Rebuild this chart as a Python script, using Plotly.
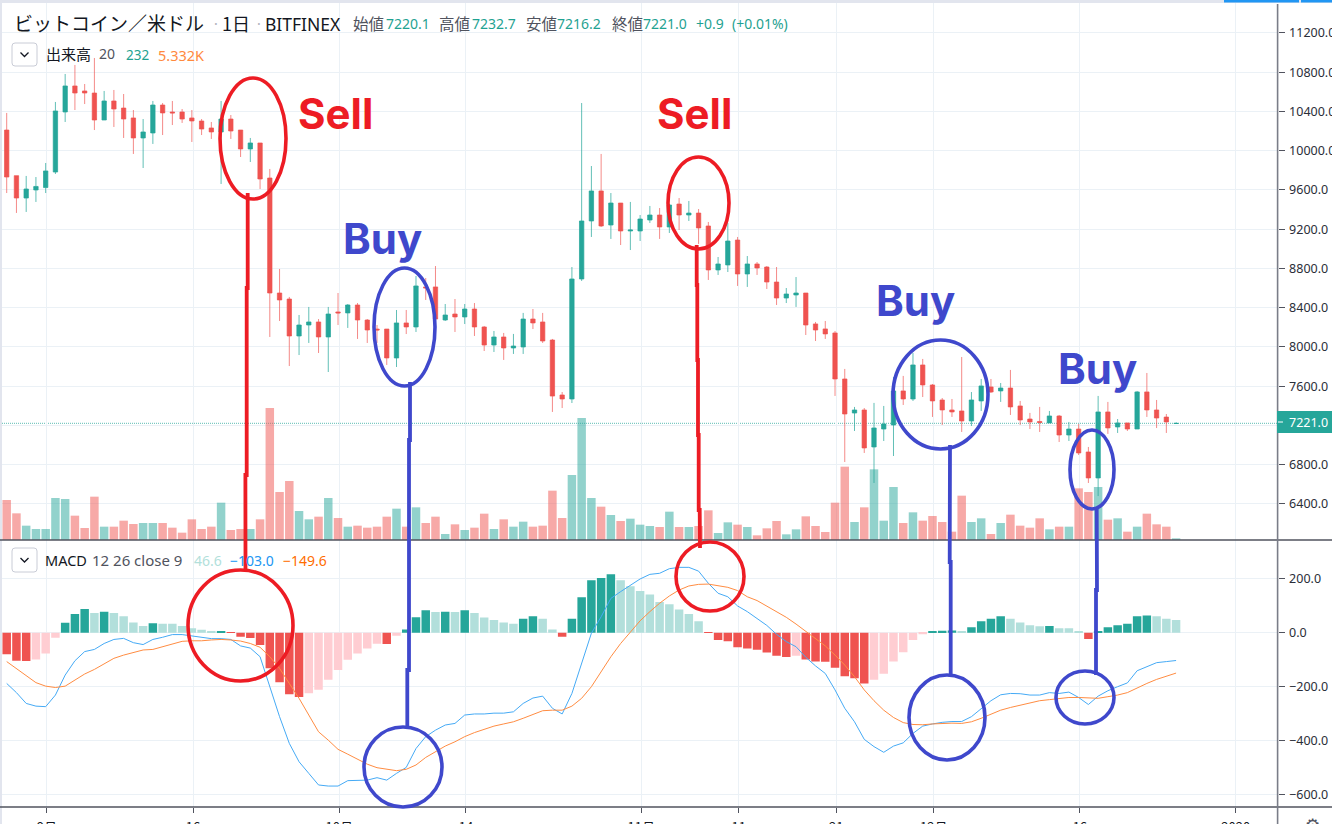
import pandas as pd
import plotly.graph_objects as go

W, H = 1332, 842
dates = pd.date_range("2019-08-28", periods=121).strftime("%Y-%m-%d").tolist()

highs = [10385,9746,9743,9732,9875,10497,10782,10874,10680,10945,
10609,10619,10578,10415,10323,10507,10486,10507,10425,10415,
10323,10293,10507,10364,10211,10130,10079,9814,8795,8510,
8326,8408,8285,8408,8550,8438,8448,8285,8224,8183,
8377,8377,8723,8703,8825,8438,8489,8438,8448,8214,
8163,8143,8133,8347,8387,8347,8082,7541,8815,10486,
9844,9967,9569,9467,9478,9345,9437,9416,9457,9518,
9488,9406,9274,8917,9264,9121,8927,8866,8825,8815,
8601,8713,8550,8255,8265,8163,7776,7389,7378,7430,
7399,7694,7705,7939,7878,7623,7480,7470,7898,7541,
7674,7674,7633,7766,7450,7328,7389,7348,7307,7236,
7215,6981,7501,7440,7266,7226,7552,7735,7460,7317,
7232.7]
opens = [10211,9746,9518,9600,9625,9783,10395,10660,10609,10588,
10313,10507,10435,10334,10130,10181,10466,10395,10395,10334,
10303,10232,10191,10323,10211,10018,10079,9722,8550,8489,
8112,8224,8255,8102,8357,8347,8428,8275,8183,8183,
7888,8245,8204,8612,8612,8275,8336,8306,8387,8204,
8020,8102,7990,8000,8285,8255,8071,7511,7470,8693,
9284,9590,9243,9467,9182,9182,9294,9345,9223,9457,
9345,9365,9233,8785,8836,9090,8744,8846,8815,8662,
8499,8530,8550,8235,8184,8143,7674,7327,7358,6981,
7164,7205,7552,7470,7817,7613,7460,7358,7348,7246,
7450,7593,7552,7582,7399,7266,7241,7226,7297,7103,
7164,6930,6665,7338,7185,7226,7164,7542,7358,7286,
7220.1]
closes = [9732,9518,9610,9636,9794,10405,10660,10588,10588,10313,
10507,10425,10323,10130,10191,10466,10385,10385,10323,10303,
10221,10191,10323,10201,10018,10079,9712,8550,8479,8112,
8224,8255,8102,8336,8347,8428,8275,8173,8173,7888,
8245,8204,8622,8602,8285,8326,8306,8387,8204,8020,
8102,7990,8010,8285,8245,8061,7500,7470,8693,9284,
9590,9233,9467,9182,9192,9304,9345,9223,9447,9345,
9365,9213,8785,8846,9080,8744,8846,8805,8662,8499,
8540,8550,8224,8173,8133,7674,7317,7358,6971,7175,
7215,7552,7470,7817,7613,7450,7358,7338,7246,7460,
7603,7541,7582,7389,7256,7236,7231,7297,7103,7164,
6920,6665,7338,7175,7226,7164,7542,7358,7276,7236,
7221.0]
lows = [9569,9366,9376,9478,9569,9763,10293,10415,10476,10211,
10313,10242,10130,9967,9824,10069,10160,10262,10283,10089,
10160,10120,9661,10120,9936,9885,9610,8102,8265,7806,
7918,8041,7939,7745,8224,8194,8082,8041,8041,7817,
7796,8132,8153,8479,8285,8265,8153,8234,8112,7959,
7949,7868,7929,7929,8183,8041,7338,7378,7429,8673,
9121,9223,9101,9039,8988,9080,9264,9101,9162,9192,
9284,9050,8683,8734,8764,8622,8612,8734,8591,8428,
8448,8408,8122,8061,8082,7501,6828,7144,6920,6614,
7042,6889,7409,7450,7490,7287,7205,7287,7134,7195,
7348,7531,7440,7307,7205,7164,7134,7226,7032,7042,
6899,6614,6481,7114,7124,7144,7164,7287,7174,7124,
7216.2]
volumes = [5640,3760,2021,1551,1551,5922,5781,3431,1692,6110,
1880,1880,2726,2256,2397,2397,2397,1739,1034,2914,
1551,1880,5264,1410,1551,1551,2914,18612,6768,8319,
4089,2914,3290,5922,3102,1880,2021,1739,1880,3290,
4418,1880,4606,2397,3290,846,2209,1410,1739,3713,
1551,2914,1880,2585,1880,2021,6956,3102,9165,17202,
5922,4700,3525,2679,3008,2162,1974,1833,3995,1833,
1833,1974,4183,987,2491,2162,1833,658,1645,2679,
799,1504,3337,1974,1128,5264,10340,2538,4606,9964,
2726,7473,2397,3901,2726,3384,2538,1175,6251,2538,
3055,846,2397,3572,2021,1739,3055,1504,1880,1880,
7285,6768,7473,2867,3055,1175,1880,3713,2209,1880,
232]
macd_hist = [-80,-104,-105,-99,-77,-19,37,69,88,73,
78,73,61,38,25,35,33,33,25,16,
11,3,4,-1,-15,-20,-46,-132,-184,-228,
-238,-224,-211,-174,-138,-100,-77,-59,-41,-42,
-11,12,57,83,77,78,77,83,73,56,
47,38,33,52,61,52,12,-15,52,131,
194,203,216,194,172,154,141,114,105,86,
69,42,-1,-27,-32,-54,-59,-63,-73,-85,
-90,-85,-99,-107,-108,-130,-161,-169,-188,-174,
-152,-107,-72,-27,-6,3,7,8,6,20,
42,52,61,52,38,28,24,25,16,16,
3,-23,6,20,28,33,61,64,61,52,
46.6]
macd_line = [-188,-222,-262,-272,-274,-231,-157,-104,-70,-62,
-40,-25,-21,-37,-44,-25,-17,-7,-7,-12,
-17,-22,-22,-25,-49,-57,-89,-200,-311,-410,
-478,-521,-564,-568,-568,-548,-546,-546,-537,-546,
-521,-499,-429,-385,-361,-342,-336,-305,-301,-301,
-298,-298,-293,-262,-242,-235,-280,-301,-225,-114,
-2,59,127,152,177,199,216,220,237,242,
242,228,183,146,133,99,78,54,27,-6,
-33,-52,-91,-123,-151,-212,-280,-330,-395,-422,
-443,-420,-408,-373,-346,-338,-332,-329,-329,-311,
-282,-252,-230,-225,-226,-231,-231,-222,-225,-220,
-240,-266,-235,-215,-200,-186,-141,-126,-111,-107,
-103.0]
signal_line = [-107,-132,-157,-185,-198,-203,-198,-175,-153,-136,
-114,-95,-83,-74,-64,-62,-52,-42,-32,-30,
-30,-27,-25,-27,-31,-40,-54,-89,-132,-188,
-243,-305,-367,-398,-432,-450,-469,-487,-500,-506,
-511,-506,-490,-462,-441,-420,-404,-385,-370,-358,
-346,-338,-330,-317,-303,-289,-287,-287,-272,-243,
-200,-144,-89,-40,4,44,78,109,136,158,
173,179,180,175,168,156,133,119,99,78,
57,32,4,-21,-49,-83,-120,-163,-212,-252,
-287,-314,-333,-340,-341,-338,-336,-335,-336,-330,
-317,-301,-287,-277,-268,-259,-252,-248,-243,-240,
-240,-242,-243,-237,-231,-222,-204,-188,-173,-161,
-149.6]
last_price = 7221.0

price_ticks = [11200,10800,10400,10000,9600,9200,8800,8400,8000,7600,7200,6800,6400]
price_tick_text = ["11200.0","10800.0","10400.0","10000.0","9600.0","9200.0","8800.0","8400.0","8000.0","7600.0","","6800.0","6400.0"]
macd_ticks = [200,0,-200,-400,-600]
macd_tick_text = ["200.0","0.0","−200.0","−400.0","−600.0"]
date_ticks = ["2019-09-01 03:00","2019-09-16 03:00","2019-10-01 03:00","2019-10-14 03:00","2019-11-01 03:00",
              "2019-11-11 03:00","2019-11-21 03:00","2019-12-01 03:00","2019-12-16 03:00","2020-01-01 03:00"]
date_tick_text = ["9月","16","10月","14","11月","11","21","12月","16","2020"]

GREEN, RED = "#26a69a", "#ef5350"
PAINT_RED, PAINT_BLUE = "#ed1c24", "#3f48cc"
GRID = "#ebf1f6"
TEXT_FONT = "Noto Sans CJK JP, Noto Sans, sans-serif"
NUM_FONT = "Noto Sans, sans-serif"

def px(x): return x / W
def py(y): return 1 - y / H

vol_colors = ["rgba(38,166,154,0.5)" if c >= o else "rgba(239,83,80,0.5)" for o, c in zip(opens, closes)]
hist_colors = []
for i, v in enumerate(macd_hist):
    prev = macd_hist[i - 1] if i else 0
    if v >= 0:
        hist_colors.append(GREEN if v > prev else "#b2dfdb")
    else:
        hist_colors.append(RED if v < prev else "#ffcdd2")

fig = go.Figure()
fig.add_trace(go.Bar(x=dates, y=volumes, marker=dict(color=vol_colors, line_width=0), xaxis="x", yaxis="y", showlegend=False))
fig.add_trace(go.Candlestick(x=dates, open=opens, high=highs, low=lows, close=closes, xaxis="x", yaxis="y2", showlegend=False,
    whiskerwidth=0,
    increasing=dict(line=dict(color="rgba(38,166,154,0.72)", width=1), fillcolor=GREEN),
    decreasing=dict(line=dict(color="rgba(239,83,80,0.68)", width=1), fillcolor=RED)))
fig.add_trace(go.Bar(x=dates, y=macd_hist, marker=dict(color=hist_colors, line_width=0), xaxis="x2", yaxis="y3", showlegend=False))
fig.add_trace(go.Scatter(x=dates, y=macd_line, mode="lines", line=dict(color="#45aaf5", width=1), xaxis="x2", yaxis="y3", showlegend=False))
fig.add_trace(go.Scatter(x=dates, y=signal_line, mode="lines", line=dict(color="#ff8c42", width=1), xaxis="x2", yaxis="y3", showlegend=False))

shapes = []
def rect(x0, y0, x1, y1, color):
    shapes.append(dict(type="rect", xref="paper", yref="paper", x0=px(x0), x1=px(x1), y0=py(y0), y1=py(y1),
                       fillcolor=color, line_width=0, layer="above"))
def seg(pts, color, width):
    d = "M " + " L ".join(f"{px(x):.5f},{py(y):.5f}" for x, y in pts)
    shapes.append(dict(type="path", xref="paper", yref="paper", path=d, line=dict(color=color, width=width), layer="above"))
def ellipse(x0, y0, x1, y1, color):
    shapes.append(dict(type="circle", xref="paper", yref="paper", x0=px(x0), x1=px(x1), y0=py(y0), y1=py(y1),
                       line=dict(color=color, width=3.6), layer="above"))
def button(x0, y0, x1, y1):
    r = 3
    d = (f"M {px(x0+r)},{py(y0)} L {px(x1-r)},{py(y0)} Q {px(x1)},{py(y0)} {px(x1)},{py(y0+r)} "
         f"L {px(x1)},{py(y1-r)} Q {px(x1)},{py(y1)} {px(x1-r)},{py(y1)} L {px(x0+r)},{py(y1)} "
         f"Q {px(x0)},{py(y1)} {px(x0)},{py(y1-r)} L {px(x0)},{py(y0+r)} Q {px(x0)},{py(y0)} {px(x0+r)},{py(y0)} Z")
    shapes.append(dict(type="path", xref="paper", yref="paper", path=d, fillcolor="white",
                       line=dict(color="#c9ccd6", width=1), layer="above"))
    cx, cy = (x0 + x1) / 2, (y0 + y1) / 2
    seg([(cx - 4, cy - 2), (cx, cy + 2), (cx + 4, cy - 2)], "#131722", 1.3)

shapes.append(dict(type="line", xref="paper", yref="y2", x0=0, x1=px(1277), y0=last_price, y1=last_price,
                   line=dict(color="rgba(38,166,154,0.6)", width=1.2, dash="1px,1px"), layer="below"))
rect(0, 0, 2, 842, "#e2e5ee")
rect(0, 0, 1332, 3, "#e2e5ee")
rect(1224, 0, 1299, 2.5, "#2196f3")
rect(1301, 0, 1332, 2.5, "#2196f3")
seg([(0, 540), (1332, 540)], "#50535e", 1.6)
seg([(0, 807), (1332, 807)], "#50535e", 1.6)
seg([(1277.6, 4), (1277.6, 842)], "#7a7d88", 1.6)
rect(1277, 411, 1332, 433, GREEN)
seg([(1278, 422), (1283, 422)], "white", 1)
button(12, 43, 37, 66)
button(12, 548, 37, 572)

seg([(247.7, 193), (247.7, 288), (246.7, 288), (246.7, 475), (245.4, 475), (245.5, 570)], PAINT_RED, 3.8)
seg([(696.7, 245), (696.7, 285), (697.3, 285), (697.3, 360), (698, 360), (698, 435), (698.7, 435), (698.7, 510), (699.7, 510), (700, 548)], PAINT_RED, 3.8)
seg([(410, 382), (410, 440), (409, 440), (409, 670), (407.3, 670), (407.3, 726)], PAINT_BLUE, 3.8)
seg([(950, 445), (949.7, 562), (950.7, 562), (950.7, 677)], PAINT_BLUE, 3.8)
seg([(1096.7, 507), (1097, 590), (1096, 590), (1096, 675)], PAINT_BLUE, 3.8)
ellipse(220, 78, 286, 199, PAINT_RED)
ellipse(668, 157, 729, 249, PAINT_RED)
ellipse(188, 570, 293, 681, PAINT_RED)
ellipse(676, 542, 744, 611, PAINT_RED)
ellipse(374, 268, 435, 386, PAINT_BLUE)
ellipse(364, 727, 442, 807, PAINT_BLUE)
ellipse(893, 340, 988, 449, PAINT_BLUE)
ellipse(1070, 430, 1114, 509, PAINT_BLUE)
ellipse(909, 675, 985, 760, PAINT_BLUE)
ellipse(1056, 671, 1114, 724, PAINT_BLUE)

anns = []
def label(text, x, y, color, size, font=TEXT_FONT, weight=None, anchor="left"):
    f = dict(color=color, size=size, family=font)
    if weight: f["weight"] = weight
    anns.append(dict(text=text, xref="paper", yref="paper", x=px(x), y=py(y), xanchor=anchor, yanchor="middle",
                     showarrow=False, font=f, borderpad=0, borderwidth=0, align="left"))

DARK, GREY, TEAL = "#131722", "#50535e", "#1fa291"
DISPLAY = "Inter, Noto Sans, sans-serif"
label("ビットコイン／米ドル", 14, 23, DARK, 19)
label("·", 212, 23, "#b0b3bd", 14)
label("1日", 222, 23, DARK, 18)
label("·", 255, 23, "#b0b3bd", 14)
label("BITFINEX", 265, 24, DARK, 17.5, NUM_FONT)
for t, x in [("始値", 353), ("高値", 439), ("安値", 526), ("終値", 612)]:
    label(t, x, 23, GREY, 15.5)
for t, x in [("7220.1", 386), ("7232.7", 472), ("7216.2", 557), ("7221.0", 643), ("+0.9", 696), ("(+0.01%)", 732)]:
    label(t, x, 24, TEAL, 14, NUM_FONT)
label("出来高", 46, 54, DARK, 15)
label("20", 99, 54, GREY, 14, NUM_FONT)
label("232", 126, 55, TEAL, 13.5, NUM_FONT)
label("5.332K", 158, 55, "#ff8a3d", 14.5, NUM_FONT)
label("MACD", 45, 560, DARK, 14.5, NUM_FONT)
label("12 26 close 9", 92, 560, GREY, 15, NUM_FONT)
label("46.6", 194, 560, "#b2dfdb", 14, NUM_FONT)
label("−103.0", 230, 560, "#2196f3", 14, NUM_FONT)
label("−149.6", 283, 560, "#ff6d00", 14, NUM_FONT)
label("7221.0", 1289, 422, "white", 12.5, NUM_FONT)
label("Sell", 298, 113, PAINT_RED, 42, DISPLAY, "bold")
label("Sell", 657, 113, PAINT_RED, 42, DISPLAY, "bold")
label("Buy", 343, 238, PAINT_BLUE, 42, DISPLAY, "bold")
label("Buy", 876, 300, PAINT_BLUE, 42, DISPLAY, "bold")
label("Buy", 1058, 368, PAINT_BLUE, 42, DISPLAY, "bold")
label("⚙", 1312, 825, "#50535e", 17, "DejaVu Sans", anchor="center")

x_range = ["2019-08-27 07:30", "2020-01-05 10:00"]
dom_x = [0, px(1277.6)]
common_x = dict(type="date", range=x_range, domain=dom_x, showgrid=True, gridcolor=GRID, gridwidth=1,
                tickmode="array", tickvals=date_ticks, zeroline=False, rangeslider=dict(visible=False))

fig.update_layout(
    width=W, height=H, margin=dict(l=0, r=0, t=0, b=0), autosize=False,
    paper_bgcolor="white", plot_bgcolor="white", showlegend=False, bargap=0.13, boxgap=0.36,
    xaxis=dict(**common_x, anchor="y", ticks="", showticklabels=False),
    xaxis2=dict(**common_x, anchor="y3", matches="x", ticks="outside", ticklen=5, tickcolor="#50535e", tickwidth=1,
                ticktext=date_tick_text, showticklabels=True, ticklabelstandoff=3,
                tickfont=dict(family=TEXT_FONT, size=13, color="#131722")),
    yaxis=dict(domain=[py(540), 1], range=[0, 76140], visible=False, fixedrange=True),
    yaxis2=dict(domain=[py(540), 1], range=[6033, 11536], overlaying="y", side="right", anchor="x",
                tickmode="array", tickvals=price_ticks, ticktext=price_tick_text,
                showgrid=True, gridcolor=GRID, zeroline=False, ticks="outside", ticklen=6, tickcolor="#50535e", tickwidth=1,
                ticklabelstandoff=2, tickfont=dict(family=NUM_FONT, size=12.5, color="#2a2e39"), automargin=False),
    yaxis3=dict(domain=[py(807), py(540)], range=[-645.6, 343.3], side="right", anchor="x2",
                tickmode="array", tickvals=macd_ticks, ticktext=macd_tick_text,
                showgrid=True, gridcolor=GRID, zeroline=False, ticks="outside", ticklen=6, tickcolor="#50535e", tickwidth=1,
                ticklabelstandoff=2, tickfont=dict(family=NUM_FONT, size=12.5, color="#2a2e39"), automargin=False),
    shapes=shapes, annotations=anns,
)

fig.write_html("out.html", config={"displayModeBar": False},
               post_script="document.documentElement.style.overflow='hidden';document.body.style.margin='0';document.body.style.overflow='hidden';")
